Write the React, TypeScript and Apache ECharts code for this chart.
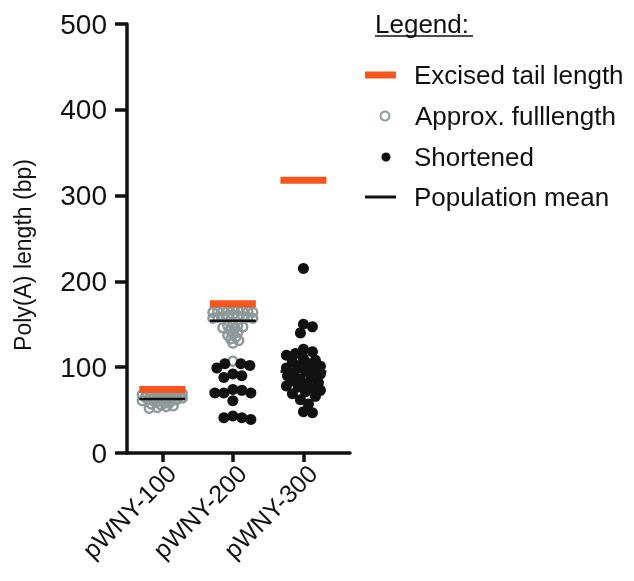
import React, { useEffect, useRef } from "react";
import * as echarts from "echarts";

const categories = ["pWNY-100", "pWNY-200", "pWNY-300"];
const yTicks = [0, 100, 200, 300, 400, 500];
const excisedTail = [74, 174, 318];

const fullLength100 = [71, 71, 70, 70, 70, 69, 69, 69, 68, 68, 68, 67, 67, 67, 66, 66, 65, 65, 65, 64, 64, 63, 63, 62, 62, 61, 60, 59, 58, 57, 56, 55, 54, 53, 52];
const fullLength200 = [167, 167, 166, 166, 166, 165, 165, 164, 164, 161, 160, 160, 159, 159, 158, 158, 157, 157, 150, 149, 148, 147, 146, 145, 143, 141, 139, 137, 135, 133, 131, 128, 107];
const fullLength300: number[] = [];

const shortened100: number[] = [];
const shortened200 = [104, 104, 102, 99, 92, 90, 88, 74, 73, 70, 70, 70, 61, 43, 41, 41, 39];
const shortened300 = [215, 150, 147, 140, 121, 118, 116, 114, 110, 108, 106, 104, 102, 101, 99, 97, 95, 94, 92, 90, 88, 86, 84, 82, 80, 78, 77, 75, 73, 71, 69, 66, 62, 57, 48, 47];

const meanFullLength: (number | null)[] = [63, 154, null];
const meanShortened: (number | null)[] = [null, 72, 95];

const ORANGE = "#F4561E";
const GRAY = "#8E9999";
const BLACK = "#111111";
const FONT = "Liberation Sans, Arial, Helvetica, sans-serif";

const GRID = { left: 127, top: 24, width: 223, height: 429 };
const X_MAX = 3.16;
const pxPerX = GRID.width / X_MAX;
const pxPerY = GRID.height / 500;

function swarm(catIndex: number, full: number[], short: number[], maxHalf: number) {
  const items = [
    ...full.map((v) => ({ v, kind: 0 })),
    ...short.map((v) => ({ v, kind: 1 })),
  ].sort((a, b) => b.v - a.v);
  const minD = (a: number, b: number) => (a === 0 && b === 0 ? 4.5 : a === 1 && b === 1 ? 9 : 8);
  const placed: { x: number; y: number; kind: number; v: number }[] = [];
  for (const it of items) {
    const y = it.v * pxPerY;
    let best = 0;
    let bestScore = -Infinity;
    for (let k = 0; k <= 2 * maxHalf; k++) {
      const off = k === 0 ? 0 : k % 2 === 1 ? (k + 1) / 2 : -k / 2;
      let score = Infinity;
      for (const p of placed) {
        const d = Math.hypot(p.x - off, p.y - y) / minD(p.kind, it.kind);
        if (d < score) score = d;
      }
      if (score >= 1) {
        best = off;
        break;
      }
      if (score > bestScore) {
        bestScore = score;
        best = off;
      }
    }
    placed.push({ x: best, y, kind: it.kind, v: it.v });
  }
  const fullPts: number[][] = [];
  const shortPts: number[][] = [];
  for (const p of placed) {
    const pt = [catIndex + 0.5 + p.x / pxPerX, p.v];
    if (p.kind === 0) fullPts.push(pt);
    else shortPts.push(pt);
  }
  return { fullPts, shortPts };
}

export default function App() {
  const ref = useRef<HTMLDivElement>(null);
  useEffect(() => {
    if (!ref.current) return;
    const chart = echarts.init(ref.current, undefined, { renderer: "svg" });
    const fulls = [fullLength100, fullLength200, fullLength300];
    const shorts = [shortened100, shortened200, shortened300];
    const halfWidths = [20, 20, 17];
    const fullData: number[][] = [];
    const shortData: number[][] = [];
    categories.forEach((_, i) => {
      const s = swarm(i, fulls[i], shorts[i], halfWidths[i]);
      fullData.push(...s.fullPts);
      shortData.push(...s.shortPts);
    });
    const catCenters = categories.map((_, i) => i + 0.5);
    const LABEL_SHIFT = 0.13;
    const labelPos = catCenters.map((c) => c + LABEL_SHIFT);
    const excisedData = excisedTail.map((v, i) => [i + 0.5, v]);
    const meanData: number[][] = [];
    meanFullLength.forEach((v, i) => {
      if (v != null) meanData.push([i + 0.5, v]);
    });
    meanShortened.forEach((v, i) => {
      if (v != null) meanData.push([i + 0.5, v]);
    });

    const legendText = { fontSize: 26, fontFamily: FONT, color: BLACK, lineHeight: 30 };

    chart.setOption({
      animation: false,
      grid: { ...GRID, containLabel: false, outerBoundsMode: "none" },
      xAxis: {
        type: "value",
        min: 0,
        max: X_MAX,
        splitLine: { show: false },
        axisLine: { show: true, lineStyle: { color: BLACK, width: 3.5 } },
        axisTick: {
          show: true,
          customValues: catCenters,
          length: 9,
          lineStyle: { color: BLACK, width: 3.5 },
        },
        axisLabel: {
          customValues: labelPos,
          rotate: 45,
          margin: 16,
          fontSize: 25,
          fontFamily: FONT,
          color: BLACK,
          formatter: (v: number) => categories[Math.round(v - 0.5 - LABEL_SHIFT)] ?? "",
        },
      },
      yAxis: {
        type: "value",
        min: 0,
        max: 500,
        interval: 100,
        splitLine: { show: false },
        axisLine: { show: true, lineStyle: { color: BLACK, width: 3.5 } },
        axisTick: { show: true, length: 12, lineStyle: { color: BLACK, width: 3.5 } },
        axisLabel: {
          margin: 20,
          fontSize: 28,
          fontFamily: FONT,
          color: BLACK,
          customValues: yTicks,
        },
      },
      legend: [
        {
          left: 365, top: 75 - 15, padding: 0, selectedMode: false,
          itemWidth: 31, itemHeight: 7,
          data: [{ name: "Excised tail length", icon: "rect", itemStyle: { color: ORANGE } }],
          textStyle: { ...legendText, padding: [0, 0, 0, 13] },
        },
        {
          left: 379.5, top: 116 - 15, padding: 0, selectedMode: false,
          itemWidth: 9, itemHeight: 9,
          data: [{
            name: "Approx. fulllength", icon: "circle",
            itemStyle: { color: "rgba(0,0,0,0)", borderColor: GRAY, borderWidth: 2 },
          }],
          textStyle: { ...legendText, padding: [0, 0, 0, 20.5] },
        },
        {
          left: 381.5, top: 157 - 15, padding: 0, selectedMode: false,
          itemWidth: 9, itemHeight: 9,
          data: [{ name: "Shortened", icon: "circle", itemStyle: { color: BLACK } }],
          textStyle: { ...legendText, padding: [0, 0, 0, 18.5] },
        },
        {
          left: 365, top: 197 - 15, padding: 0, selectedMode: false,
          itemWidth: 31, itemHeight: 3,
          data: [{ name: "Population mean", icon: "rect", itemStyle: { color: BLACK } }],
          textStyle: { ...legendText, padding: [0, 0, 0, 13] },
        },
      ],
      graphic: [
        {
          type: "text",
          x: 23,
          y: 255,
          rotation: Math.PI / 2,
          style: {
            text: "Poly(A) length (bp)",
            fontSize: 23,
            fontFamily: FONT,
            fill: BLACK,
            align: "center",
            verticalAlign: "middle",
          },
        },
        {
          type: "text",
          left: 375,
          top: 11,
          style: { text: "Legend:", fontSize: 26, fontFamily: FONT, fill: BLACK },
        },
        {
          type: "line",
          shape: { x1: 375, y1: 36, x2: 473, y2: 36 },
          style: { stroke: BLACK, lineWidth: 1.5 },
        },
      ],
      series: [
        {
          name: "Approx. fulllength",
          type: "scatter",
          symbol: "circle",
          symbolSize: 9,
          itemStyle: { color: "rgba(0,0,0,0)", borderColor: GRAY, borderWidth: 2.4, opacity: 1 },
          data: fullData,
          z: 2,
        },
        {
          name: "Shortened",
          type: "scatter",
          symbol: "circle",
          symbolSize: 11,
          itemStyle: { color: BLACK, opacity: 1 },
          data: shortData,
          z: 3,
        },
        {
          name: "Excised tail length",
          type: "scatter",
          symbol: "rect",
          symbolSize: [46, 7],
          itemStyle: { color: ORANGE, opacity: 1 },
          data: excisedData,
          z: 4,
        },
        {
          name: "Population mean",
          type: "scatter",
          symbol: "rect",
          symbolSize: [46, 2.5],
          itemStyle: { color: BLACK, opacity: 1 },
          data: meanData,
          z: 5,
        },
      ],
    });
    return () => chart.dispose();
  }, []);
  return (
    <div
      ref={ref}
      style={{ position: "fixed", left: 0, top: 0, width: 634, height: 581 }}
    />
  );
}
